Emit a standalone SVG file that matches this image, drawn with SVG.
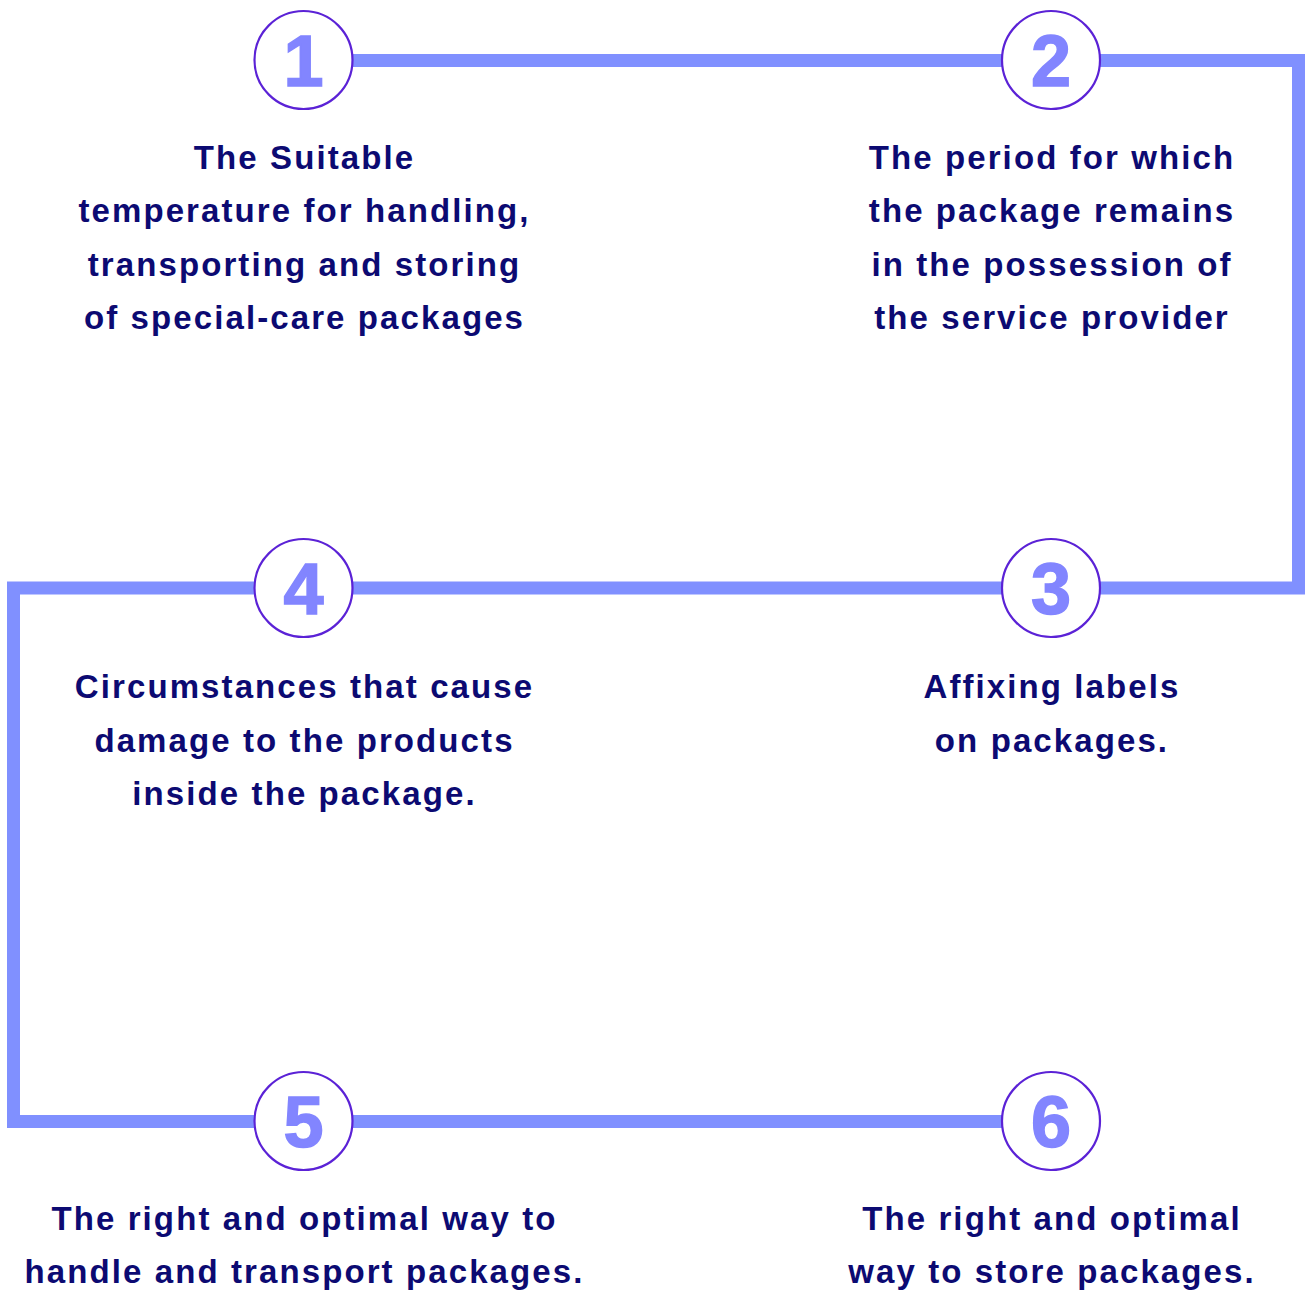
<svg xmlns="http://www.w3.org/2000/svg" width="1307" height="1290" viewBox="0 0 1307 1290">
<style>
.node circle{fill:#fff;stroke:#5b22d6;stroke-width:2.2}
.num{font-family:"Liberation Sans",Arial,sans-serif;font-weight:700;font-size:72px;fill:#8285ff;stroke:#8285ff;stroke-width:1.5;text-anchor:middle}
.lbl{font-family:"Liberation Sans",Arial,sans-serif;font-weight:700;font-size:33px;letter-spacing:2.1px;fill:#0c0a72;text-anchor:middle}
</style>
<rect width="1307" height="1290" fill="#fff"/>
<g id="connectors">
<path d="M304 60.5 H1298.5 V588 H13.5 V1121.5 H1051" fill="none" stroke="#8090ff" stroke-width="13" stroke-linejoin="miter"/>
</g>
<g id="node1" class="node"><circle cx="303.5" cy="60" r="49"/><text class="num" x="303.5" y="86">1</text>
<text class="lbl" x="304.5" y="169">The Suitable</text><text class="lbl" x="304.5" y="222">temperature for handling,</text><text class="lbl" x="304.5" y="276">transporting and storing</text><text class="lbl" x="304.5" y="329">of special-care packages</text></g>
<g id="node2" class="node"><circle cx="1051" cy="60" r="49"/><text class="num" x="1051" y="86">2</text>
<text class="lbl" x="1052" y="169">The period for which</text><text class="lbl" x="1052" y="222">the package remains</text><text class="lbl" x="1052" y="276">in the possession of</text><text class="lbl" x="1052" y="329">the service provider</text></g>
<g id="node3" class="node"><circle cx="1051" cy="588" r="49"/><text class="num" x="1051" y="614">3</text>
<text class="lbl" x="1052" y="698">Affixing labels</text><text class="lbl" x="1052" y="752">on packages.</text></g>
<g id="node4" class="node"><circle cx="303.5" cy="588" r="49"/><text class="num" x="303.5" y="614">4</text>
<text class="lbl" x="304.5" y="698">Circumstances that cause</text><text class="lbl" x="304.5" y="752">damage to the products</text><text class="lbl" x="304.5" y="805">inside the package.</text></g>
<g id="node5" class="node"><circle cx="303.5" cy="1121" r="49"/><text class="num" x="303.5" y="1147">5</text>
<text class="lbl" x="304.5" y="1230">The right and optimal way to</text><text class="lbl" x="304.5" y="1283">handle and transport packages.</text></g>
<g id="node6" class="node"><circle cx="1051" cy="1121" r="49"/><text class="num" x="1051" y="1147">6</text>
<text class="lbl" x="1052" y="1230">The right and optimal</text><text class="lbl" x="1052" y="1283">way to store packages.</text></g>
</svg>
